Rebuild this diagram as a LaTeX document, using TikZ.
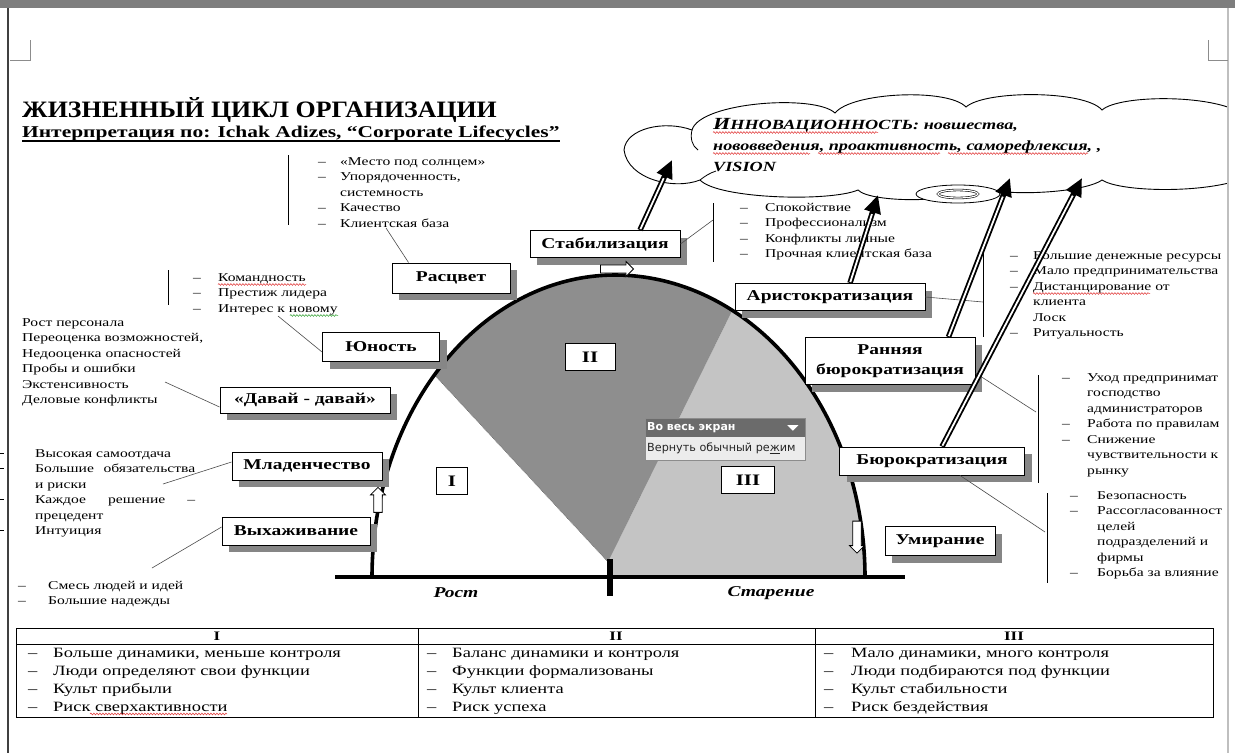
\documentclass[tikz,border=0pt]{standalone}
\usepackage{fontspec}
\setmainfont{Liberation Serif}
\newfontfamily\bodyf{Liberation Serif}[FakeStretch=1.3]
\newfontfamily\titlef{Liberation Serif}[FakeStretch=1.1]
\newfontfamily\uif{DejaVu Sans}
\usetikzlibrary{shadows,shapes.arrows,arrows.meta,calc,decorations.pathmorphing}

\definecolor{shadowgray}{HTML}{868686}
\definecolor{darksector}{HTML}{8E8E8E}
\definecolor{lightsector}{HTML}{C4C4C4}
\definecolor{pagegray}{HTML}{7E7E7E}
\definecolor{menudark}{HTML}{6B6B6B}
\definecolor{menulight}{HTML}{ECECEC}
\definecolor{spellred}{HTML}{E03030}
\definecolor{spellgreen}{HTML}{30A030}

% a list: dash column of given width, then the text
\newcommand{\dashlist}[2]{\begin{tabular}[t]{@{}p{#1}@{}l@{}}#2\end{tabular}}
\newcommand{\plainlist}[1]{\begin{tabular}[t]{@{}l@{}}#1\end{tabular}}

\begin{document}
\begin{tikzpicture}[x=1pt,y=-1pt,
  stage/.style={draw=black, line width=0.9pt, fill=white, inner sep=0pt,
    font=\bodyf\bfseries\fontsize{15}{20}\selectfont, align=center,
    drop shadow={shadow xshift=7pt, shadow yshift=-7pt, fill=shadowgray, opacity=1}},
  numbox/.style={draw=black, line width=0.9pt, fill=white, inner sep=0pt,
    font=\bodyf\bfseries\fontsize{16}{18}\selectfont},
  listtxt/.style={inner sep=0pt, anchor=base west, font=\bodyf\fontsize{12}{15.5}\selectfont},
  conn/.style={draw=black!70, line width=0.6pt},
  bar/.style={draw=black, line width=1pt},
  tabtxt/.style={inner sep=0pt, anchor=base west, font=\bodyf\fontsize{14.2}{18}\selectfont},
  tabhead/.style={inner sep=0pt, font=\bodyf\bfseries\fontsize{13}{15}\selectfont},
  hollow/.style={single arrow, draw=black, fill=white, line width=0.8pt, inner sep=3.5pt,
    minimum width=15pt, single arrow head extend=3pt},
  bigshaft/.style={line width=5.5pt, -{Triangle[length=18pt,width=16pt]}},
  bigcore/.style={white, line width=1.8pt, shorten >=20pt, shorten <=1pt},
  axislabel/.style={font=\bodyf\bfseries\itshape\fontsize{15}{18}\selectfont},
  spell/.style={line width=0.5pt, decorate, decoration={snake, amplitude=0.9pt, segment length=3pt}},
]
\useasboundingbox (0,0) rectangle (1235,753);
\fill[white] (0,0) rectangle (1235,753);

% ---------- sectors of the life cycle ----------
\coordinate (V) at (608,562);
\fill[lightsector] (V) -- plot[domain=62:0,samples=40] ({615+250*cos(\x)},{577-302*sin(\x)}) -- (612,577) -- cycle;
\fill[darksector] (V) -- plot[domain=138:90,samples=40] ({615+243*cos(\x)},{577-302*sin(\x)})
   -- plot[domain=90:62,samples=30] ({615+250*cos(\x)},{577-302*sin(\x)}) -- cycle;
\draw[black!60, densely dotted, line width=0.6pt] (V) -- ({615+243*cos(138)},{577-302*sin(138)});

% the arch
\draw[line width=3.6pt] plot[domain=180:90,samples=80] ({615+243*cos(\x)},{577-302*sin(\x)})
   -- plot[domain=90:0,samples=80] ({615+250*cos(\x)},{577-302*sin(\x)});

% ground line and centre tick
\coordinate (gl) at (335,577);
\coordinate (gr) at (905,577);
\coordinate (tt) at (610,559);
\coordinate (tb) at (610,596);
\draw[line width=4pt] (gl) -- (gr);
\draw[line width=5.5pt] (tt) -- (tb);
\node[axislabel] (rost) at (456,593) {Рост};
\node[axislabel] (star) at (771,593) {Старение};

% ---------- roman numerals ----------
\node[numbox, minimum width=50pt, minimum height=27pt] (sII) at (590,357) {II};
\node[numbox, minimum width=31pt, minimum height=27pt] (sI) at (452,481) {I};
\node[numbox, minimum width=53pt, minimum height=27pt] (sIII) at (748,480) {III};

% ---------- stage boxes ----------
\node[stage, minimum width=150pt, minimum height=27pt] (stab) at (605,244) {Стабилизация};
\node[stage, minimum width=118pt, minimum height=30pt] (rasc) at (451,278) {Расцвет};
\node[stage, minimum width=117pt, minimum height=29pt] (yun) at (381,347) {Юность};
\node[stage, minimum width=170pt, minimum height=26pt] (davai) at (305,400) {«Давай - давай»};
\node[stage, minimum width=150pt, minimum height=28pt] (mlad) at (307,466) {Младенчество};
\node[stage, minimum width=148pt, minimum height=28pt] (vyh) at (296,531) {Выхаживание};
\node[stage, minimum width=190pt, minimum height=27pt] (arist) at (830,297) {Аристократизация};
\node[stage, minimum width=170pt, minimum height=47pt] (rbur) at (890,361) {Ранняя\\бюрократизация};
\node[stage, minimum width=185pt, minimum height=28pt] (bur) at (932,461) {Бюрократизация};
\node[stage, minimum width=110pt, minimum height=29pt] (umir) at (940,541) {Умирание};

% ---------- hollow arrows along the arch ----------
\node[hollow, minimum height=25pt, shape border rotate=90] (upar) at (378,502) {};
\node[hollow, minimum height=33pt, minimum width=15pt, inner sep=3pt, shape border rotate=0] (rtar) at (615,269) {};
\node[hollow, minimum height=32pt, shape border rotate=270] (dnar) at (857,535) {};

% ---------- screen menu ----------
\node[anchor=north west, fill=menudark, minimum width=160pt, minimum height=19pt, inner sep=0pt] (menutop) at (645,418) {};
\node[anchor=west, inner sep=0pt, text=white, font=\uif\bfseries\fontsize{11}{13}\selectfont] (menutxt) at ([xshift=2pt]menutop.west) {Во весь экран};
\fill[white] ($(menutop.east)+(-18,-2.5)$) -- ++(11,0) -- ++(-5.5,5.5) -- cycle;
\node[anchor=north west, fill=menulight, minimum width=160pt, minimum height=23pt, inner sep=0pt] (menubot) at (645,437) {};
\node[anchor=west, inner sep=0pt, text=black!85, font=\uif\fontsize{11.2}{13}\selectfont] (menutxt2) at ([xshift=2pt]menubot.west) {Вернуть обычный ре\underline{ж}им};
\draw[black!45, line width=0.8pt] (menutop.north west) rectangle (menubot.south east);

% ---------- characteristic lists ----------
\node[listtxt] (lRasc) at (318,165) {\dashlist{22pt}{–&«Место под солнцем»\\–&Упорядоченность,\\&системность\\–&Качество\\–&Клиентская база}};
\draw[bar] (288,155) -- (288,225);
\coordinate (kRasc) at (386,228);
\draw[conn] (kRasc) -- ([xshift=17pt]rasc.north west);

\node[listtxt] (lYun) at (193,281) {\dashlist{25pt}{–&Командность\\–&Престиж лидера\\–&Интерес к новому}};
\draw[bar] (168,270) -- (168,305);
\coordinate (kYun) at (278,316);
\draw[conn] (kYun) -- ([yshift=-5pt]yun.west);
\draw[spell, spellred] (218,284.5) -- (306,284.5);
\draw[spell, spellgreen] (290,315.5) -- (338,315.5);

\node[listtxt] (lDav) at (22,326) {\plainlist{Рост персонала\\Переоценка возможностей,\\Недооценка опасностей\\Пробы и ошибки\\Экстенсивность\\Деловые конфликты}};
\coordinate (kDav) at (165,382);
\draw[conn] (kDav) -- ([yshift=-7pt]davai.west);

\node[listtxt] (lMlad) at (35,457) {\plainlist{Высокая самоотдача\\\makebox[160pt][s]{Большие обязательства}\\и риски\\\makebox[160pt][s]{Каждое решение –}\\прецедент\\Интуиция}};
% list marks cut by the page edge
\foreach \yy in {453,468.5,499.5,530.5}{\draw[line width=0.9pt] (0,\yy) -- (3.5,\yy);}
\coordinate (kMlad) at (163,484);
\draw[conn] (kMlad) -- ([yshift=4pt]mlad.west);

\node[listtxt] (lVyh) at (18,589) {\dashlist{30pt}{–&Смесь людей и идей\\–&Большие надежды}};
\coordinate (kVyh) at (152,568);
\draw[conn] (kVyh) -- ([yshift=4pt]vyh.west);

\node[listtxt] (lStab) at (740,211) {\dashlist{25pt}{–&Спокойствие\\–&Профессионализм\\–&Конфликты личные\\–&Прочная клиентская база}};
\draw[bar] (713,203) -- (713,262);
\coordinate (kStab) at (713,220);
\draw[conn] (stab.east) -- (kStab);

\node[listtxt] (lArist) at (1010,259) {\dashlist{23pt}{–&Большие денежные ресурсы\\–&Мало предпринимательства\\–&Дистанцирование от\\&клиента\\&Лоск\\–&Ритуальность}};
\draw[bar] (983,253) -- (983,337);
\coordinate (kArist) at (983,302);
\draw[conn] (arist.east) -- (kArist);
\draw[spell, spellred] (1033,293.5) -- (1150,293.5);

\node[listtxt] (lRbur) at (1062,381) {\dashlist{25pt}{–&Уход предпринимат\\&господство\\&администраторов\\–&Работа по правилам\\–&Снижение\\&чувствительности к\\&рынку}};
\draw[bar] (1038,375) -- (1038,483);
\coordinate (kRbur) at (1036,412);
\draw[conn] ([yshift=-12pt]rbur.east) -- (kRbur);

\node[listtxt] (lBur) at (1070,499) {\dashlist{27pt}{–&Безопасность\\–&Рассогласованност\\&целей\\&подразделений и\\&фирмы\\–&Борьба за влияние}};
\draw[bar] (1047,493) -- (1047,583);
\coordinate (kBur) at (1045,532);
\draw[conn] ([xshift=28pt]bur.south) -- (kBur);

% ---------- innovation cloud ----------
\draw[line width=0.9pt, fill=white]
  (624,150) .. controls (626,128) and (665,120) .. (692,130)
  .. controls (700,102) and (815,94) .. (835,113)
  .. controls (852,92) and (948,88) .. (966,107)
  .. controls (985,90) and (1085,90) .. (1102,110)
  .. controls (1120,94) and (1220,94) .. (1245,116)
  -- (1245,178)
  .. controls (1205,194) and (1120,192) .. (1102,180)
  .. controls (1082,194) and (995,197) .. (978,186)
  .. controls (960,204) and (870,203) .. (858,190)
  .. controls (830,202) and (718,199) .. (700,180)
  .. controls (675,190) and (628,180) .. (624,150) -- cycle;
\draw[line width=0.8pt] (692,130) .. controls (690,138) and (692,146) .. (698,150);
\draw[line width=0.8pt] (700,180) .. controls (705,176) and (710,173) .. (716,171);
\draw[line width=0.8pt, fill=white] (958,194) ellipse [x radius=42, y radius=9];
\draw[line width=0.6pt, double=white, double distance=1.2pt] (958,194) ellipse [x radius=20, y radius=4];
\node[inner sep=0pt, anchor=base west, font=\bodyf\bfseries\itshape\fontsize{14}{21}\selectfont] (ctext) at (713,129)
  {\plainlist{{\fontsize{17}{21}\selectfont И}ННОВАЦИОННОСТЬ: новшества,\\нововведения, проактивность, саморефлексия, ,\\VISION}};
\draw[spell, spellred] (713,132.5) -- (878,132.5);
\draw[spell, spellred] (713,153.5) -- (810,153.5);
\draw[spell, spellred] (818,153.5) -- (940,153.5);
\draw[spell, spellred] (948,153.5) -- (1088,153.5);

% ---------- arrows into the cloud ----------
\coordinate (t1) at (672,160);
\coordinate (t2) at (878,195);
\coordinate (t3) at (1010,178);
\coordinate (t4) at (1082,178);
\coordinate (s1) at ([xshift=35pt]stab.north);
\coordinate (s2) at ([xshift=20pt]arist.north);
\coordinate (s3) at ([xshift=-27pt]rbur.north east);
\coordinate (s4) at ([xshift=10pt]bur.north);
\foreach \s/\t in {s1/t1,s2/t2,s3/t3,s4/t4}{
  \draw[bigshaft] (\s) -- (\t);
  \draw[bigcore] (\s) -- (\t);
}

% ---------- title ----------
\node[inner sep=0pt, anchor=base west, font=\titlef\bfseries\fontsize{23.5}{26}\selectfont] (title) at (22,117) {ЖИЗНЕННЫЙ ЦИКЛ ОРГАНИЗАЦИИ};
\node[inner sep=0pt, anchor=base west, font=\bodyf\bfseries\fontsize{16.5}{20}\selectfont] (subtitle) at (22,137) {Интерпретация по: Ichak Adizes, “Corporate Lifecycles”};
\draw[line width=1.2pt] ([yshift=-4pt]subtitle.base west) -- ([yshift=-4pt]subtitle.base east);

% ---------- comparison table ----------
\draw[line width=0.9pt] (16,628) rectangle (1213,717);
\draw[line width=0.7pt] (16,644) -- (1213,644);
\draw[line width=0.7pt] (418,628) -- (418,717);
\draw[line width=0.7pt] (815,628) -- (815,717);
\node[tabhead] (hI) at (217,636) {I};
\node[tabhead] (hII) at (616,636) {II};
\node[tabhead] (hIII) at (1014,636) {III};
\node[tabtxt] (c1) at (28,657) {\dashlist{25pt}{–&Больше динамики, меньше контроля\\–&Люди определяют свои функции\\–&Культ прибыли\\–&Риск сверхактивности}};
\node[tabtxt] (c2) at (427,657) {\dashlist{25pt}{–&Баланс динамики и контроля\\–&Функции формализованы\\–&Культ клиента\\–&Риск успеха}};
\node[tabtxt] (c3) at (824,657) {\dashlist{27pt}{–&Мало динамики, много контроля\\–&Люди подбираются под функции\\–&Культ стабильности\\–&Риск бездействия}};
\draw[spell, spellred] (90,714) -- (227,714);

% ---------- page frame ----------
\fill[white] (1229,0) rectangle (1235,753);
\fill[pagegray] (0,0) rectangle (1235,8);
\draw[black!75, line width=1.5pt] (8,8) -- (8,753);
\draw[black!25, line width=1.5pt] (1228,8) -- (1228,753);
\draw[black!45, line width=0.6pt] (30,40) -- (30,60) -- (10,60);
\draw[black!45, line width=0.6pt] (1208,40) -- (1208,60) -- (1228,60);
\end{tikzpicture}
\end{document}
